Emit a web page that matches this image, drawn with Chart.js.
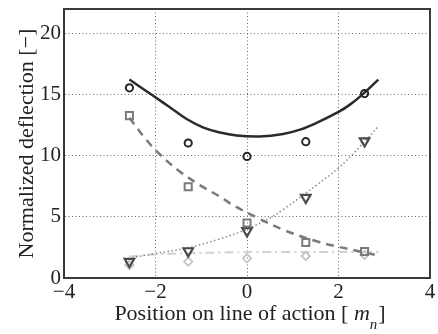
<!DOCTYPE html>
<html>
<head>
<meta charset="utf-8">
<script src="https://cdn.jsdelivr.net/npm/chart.js@4"></script>
<style>
    html, body { margin: 0; padding: 0; background: #ffffff; }
    #grafico { display: block; }
</style>
</head>
<body>
<canvas id="grafico" width="438" height="334"></canvas>
<script>
// positions of the measuring points on the line of action
var posicoes = [-2.57, -1.285, 0, 1.285, 2.57];

// measured deflections (one list per load case)
var circulos = [15.55, 11.04, 9.94, 11.15, 15.08];
var quadrados = [13.28, 7.46, 4.5, 2.9, 2.16];
var triangulos = [1.34, 2.21, 3.85, 6.58, 11.2];
var losangos = [1.07, 1.34, 1.61, 1.8, 1.89];

// fitted curves, sampled along the line of action
var ajusteCirculosX = [-2.57, -2.05, -1.68, -1.32, -0.95, -0.59, -0.23, 0.28, 0.79, 1.16, 1.52, 2.0, 2.25, 2.54, 2.87];
var ajusteCirculosY = [16.23, 14.9, 13.95, 13.0, 12.3, 11.9, 11.66, 11.58, 11.78, 12.13, 12.68, 13.58, 14.18, 15.06, 16.23];

var ajusteQuadradosX = [-2.57, -2.2, -1.9, -1.5, -1.03, -0.59, -0.3, 0.21, 0.79, 1.52, 2.0, 2.5, 2.87];
var ajusteQuadradosY = [13.1, 11.3, 10.1, 8.8, 7.6, 6.65, 5.95, 4.95, 3.95, 3.0, 2.55, 2.15, 1.83];

var ajusteTriangulosX = [-2.6, -2.05, -1.32, -0.59, 0, 0.5, 0.79, 1.27, 1.52, 2.0, 2.47, 2.87];
var ajusteTriangulosY = [1.6, 1.97, 2.45, 3.2, 4.0, 4.9, 5.6, 6.9, 7.6, 9.0, 10.75, 12.4];

var ajusteLosangosX = [-2.57, -2.05, -1.32, -0.59, 0.14, 1.0, 2.0, 2.87];
var ajusteLosangosY = [1.75, 1.92, 2.02, 2.08, 2.12, 2.13, 2.13, 2.13];

// axis ticks
var ticksX = [-4, -2, 0, 2, 4];
var ticksY = [0, 5, 10, 15, 20];

var fonte = "'Liberation Serif', 'Times New Roman', serif";

function pares(xs, ys) {
    return xs.map(function (x, i) { return { x: x, y: ys[i] }; });
}

function textoTick(v) {
    return v < 0 ? '\u2212' + Math.abs(v) : '' + v;
}

// closes the box and writes the axis titles
const moldura = {
    id: 'moldura',
    afterDraw(chart) {
        const ctx = chart.ctx;
        const a = chart.chartArea;
        ctx.save();
        ctx.strokeStyle = '#3a3a3a';
        ctx.lineWidth = 2;
        ctx.strokeRect(a.left, a.top, a.right - a.left, a.bottom - a.top);

        ctx.fillStyle = '#222222';
        ctx.textBaseline = 'alphabetic';

        // y title
        ctx.save();
        ctx.translate(33, (a.top + a.bottom) / 2);
        ctx.rotate(-Math.PI / 2);
        ctx.textAlign = 'center';
        ctx.font = '22px ' + fonte;
        ctx.fillText('Normalized deflection [\u2212]', 0, 0);
        ctx.restore();

        // x title with italic m and subscript n
        const parte1 = 'Position on line of action [ ';
        const normal = '22px ' + fonte;
        const italico = 'italic 22px ' + fonte;
        const sub = 'italic 15px ' + fonte;
        ctx.textAlign = 'left';
        ctx.font = normal;
        const w1 = ctx.measureText(parte1).width;
        const w3 = ctx.measureText(']').width;
        ctx.font = italico;
        const w2 = ctx.measureText('m').width;
        ctx.font = sub;
        const wsub = ctx.measureText('n').width;
        const total = w1 + w2 + wsub + w3 + 1;
        let x = 250 - total / 2;
        const base = 320;
        ctx.font = normal;
        ctx.fillText(parte1, x, base);
        x += w1;
        ctx.font = italico;
        ctx.fillText('m', x, base);
        x += w2;
        ctx.font = sub;
        ctx.fillText('n', x, base + 9);
        x += wsub + 1;
        ctx.font = normal;
        ctx.fillText(']', x, base);
        ctx.restore();
    }
};

function criarGrafico() {
    const ctx = document.getElementById('grafico');

    new Chart(ctx, {
        type: 'scatter',
        data: {
            datasets: [
                {
                    data: pares(posicoes, circulos),
                    pointStyle: 'circle',
                    pointRadius: 3.6,
                    pointBorderWidth: 2,
                    borderColor: '#262626',
                    backgroundColor: 'transparent',
                    order: 0
                },
                {
                    data: pares(posicoes, quadrados),
                    pointStyle: 'rect',
                    pointRadius: 5,
                    pointBorderWidth: 2,
                    borderColor: '#7a7a7a',
                    backgroundColor: 'transparent',
                    order: 0
                },
                {
                    data: pares(posicoes, triangulos),
                    pointStyle: 'triangle',
                    pointRotation: 180,
                    pointRadius: 5.5,
                    pointBorderWidth: 2.2,
                    borderColor: '#4a4a4a',
                    backgroundColor: 'transparent',
                    order: 0
                },
                {
                    data: pares(posicoes, losangos),
                    pointStyle: 'rectRot',
                    pointRadius: 4.2,
                    pointBorderWidth: 1.8,
                    borderColor: '#c4c4c4',
                    backgroundColor: 'transparent',
                    order: 0
                },
                {
                    data: pares(ajusteCirculosX, ajusteCirculosY),
                    showLine: true,
                    pointRadius: 0,
                    borderColor: '#2b2b2b',
                    borderWidth: 2.5,
                    tension: 0.4,
                    order: 1
                },
                {
                    data: pares(ajusteQuadradosX, ajusteQuadradosY),
                    showLine: true,
                    pointRadius: 0,
                    borderColor: '#7a7a7a',
                    borderWidth: 2.5,
                    borderDash: [8, 6],
                    tension: 0.4,
                    order: 1
                },
                {
                    data: pares(ajusteTriangulosX, ajusteTriangulosY),
                    showLine: true,
                    pointRadius: 0,
                    borderColor: '#8a8a8a',
                    borderWidth: 1.5,
                    borderDash: [1.5, 2.5],
                    tension: 0.4,
                    order: 1
                },
                {
                    data: pares(ajusteLosangosX, ajusteLosangosY),
                    showLine: true,
                    pointRadius: 0,
                    borderColor: '#d2d2d2',
                    borderWidth: 2,
                    borderDash: [9, 4, 2, 4],
                    tension: 0.4,
                    order: 1
                }
            ]
        },
        options: {
            responsive: false,
            animation: false,
            devicePixelRatio: 1,
            layout: {
                padding: { top: 9, right: 8, left: 0, bottom: 0 }
            },
            scales: {
                x: {
                    type: 'linear',
                    min: -4,
                    max: 4,
                    afterFit: function (s) { s.height = 56; s.paddingLeft = 0; s.paddingRight = 0; },
                    afterBuildTicks: function (s) { s.ticks = ticksX.map(function (v) { return { value: v }; }); },
                    ticks: {
                        color: '#222222',
                        padding: 2,
                        font: { family: fonte, size: 21 },
                        callback: textoTick
                    },
                    grid: {
                        color: '#6a6a6a',
                        lineWidth: 1,
                        drawTicks: false
                    },
                    border: {
                        color: '#3a3a3a',
                        width: 2,
                        dash: [1, 2.5]
                    }
                },
                y: {
                    type: 'linear',
                    min: 0,
                    max: 22,
                    afterFit: function (s) { s.width = 64; s.paddingTop = 0; s.paddingBottom = 0; },
                    afterBuildTicks: function (s) { s.ticks = ticksY.map(function (v) { return { value: v }; }); },
                    ticks: {
                        color: '#222222',
                        padding: 3,
                        font: { family: fonte, size: 21 },
                        callback: textoTick
                    },
                    grid: {
                        color: '#6a6a6a',
                        lineWidth: 1,
                        drawTicks: false
                    },
                    border: {
                        color: '#3a3a3a',
                        width: 2,
                        dash: [1, 2.5]
                    }
                }
            },
            plugins: {
                legend: { display: false },
                tooltip: { enabled: false }
            }
        },
        plugins: [moldura]
    });
}

criarGrafico();
</script>
</body>
</html>
